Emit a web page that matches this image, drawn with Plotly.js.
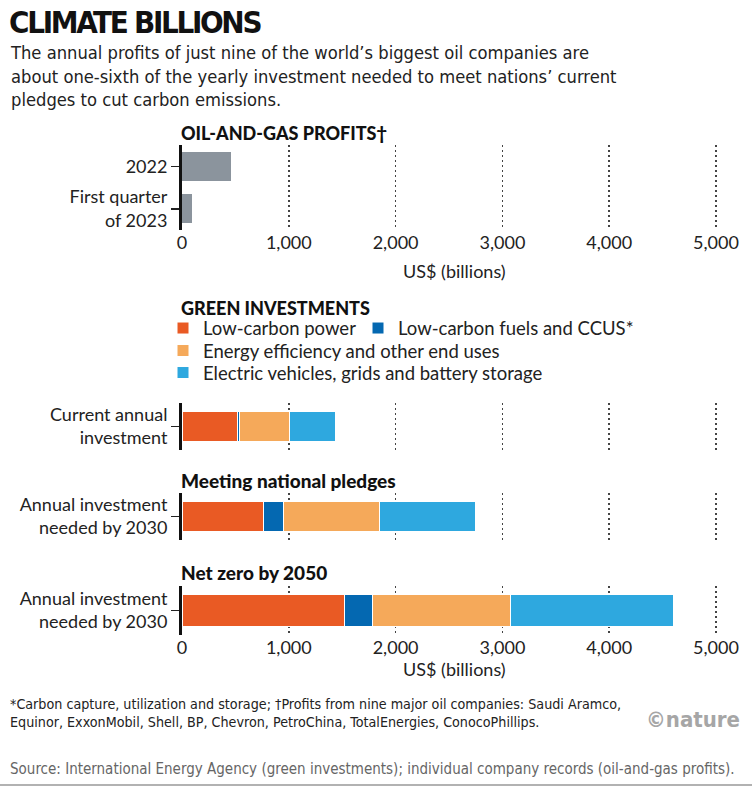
<!DOCTYPE html>
<html>
<head>
<meta charset="utf-8">
<script src="https://cdn.plot.ly/plotly-3.0.1.min.js"></script>
<style>
html,body{margin:0;padding:0;background:#fff;}
#chart{width:752px;height:787px;}
</style>
</head>
<body>
<div id="chart"></div>
<script>
// ---- Data ----
const profitCategories = ["2022", "First quarter<br>of 2023"];
const profitValues = [455, 98];

const scenarioLabels = ["Current annual<br>investment", "Annual investment<br>needed by 2030", "Annual investment<br>needed by 2030"];
const scenarioHeaders = ["", "Meeting national pledges", "Net zero by 2050"];

const seriesNames = ["Low-carbon power", "Low-carbon fuels and CCUS*", "Energy efficiency and other end uses", "Electric vehicles, grids and battery storage"];
const lowCarbonPower = [515, 760, 1520];
const lowCarbonFuels = [25, 188, 265];
const energyEfficiency = [470, 905, 1295];
const electricVehicles = [430, 895, 1525];

const xTickValues = [0, 1000, 2000, 3000, 4000, 5000];
const xTickLabels = ["0", "1,000", "2,000", "3,000", "4,000", "5,000"];

// ---- Styles ----
const seriesColors = ["#E95A24", "#0468B1", "#F5A95A", "#2EA8DF"];
const profitColor = "#8B949D";
const W = 752, H = 787;
const px = v => v / W;
const py = v => 1 - v / H;
const sans = "Lato, Roboto, sans-serif";
const tickFont = {family: sans, size: 18, color: "#222"};
const headFont = {family: sans, size: 18, color: "#111", weight: 900};
const narrow = "'DejaVu Sans Condensed', 'Liberation Sans', sans-serif";

const seriesData = [lowCarbonPower, lowCarbonFuels, energyEfficiency, electricVehicles];
const legendIds = ["legend", "legend4", "legend2", "legend3"];

const traces = [];
traces.push({
  type: "bar", orientation: "h",
  x: profitValues, y: profitCategories,
  xaxis: "x", yaxis: "y",
  marker: {color: profitColor},
  width: 0.68, showlegend: false, hoverinfo: "x+y"
});

const yAxesNames = ["y2", "y3", "y4"];
for (let i = 0; i < scenarioLabels.length; i++) {
  for (let s = 0; s < seriesNames.length; s++) {
    traces.push({
      type: "bar", orientation: "h",
      x: [seriesData[s][i]], y: [scenarioLabels[i]],
      xaxis: "x2", yaxis: yAxesNames[i],
      name: seriesNames[s],
      marker: {color: seriesColors[s], line: {color: "#fff", width: 1}},
      width: 0.64,
      showlegend: i === 0,
      legend: legendIds[s]
    });
  }
}

const xDomain = [px(182), px(182 + 5100 * 0.1068)];
const xBase = {
  range: [0, 5100], domain: xDomain,
  tickvals: xTickValues, ticktext: xTickLabels,
  showgrid: true, gridcolor: "#444", griddash: "2px,3px", gridwidth: 1.5,
  zeroline: false, showline: false, ticks: "",
  tickfont: tickFont, fixedrange: true
};
const yBase = {
  type: "category",
  showline: true, linecolor: "#111", linewidth: 3,
  ticks: "outside", ticklen: 8, tickwidth: 1.5, tickcolor: "#222",
  showgrid: false, zeroline: false, tickfont: tickFont, fixedrange: true
};

const legendBase = {
  orientation: "h", xanchor: "left", yanchor: "middle",
  bgcolor: "rgba(0,0,0,0)", borderwidth: 0, traceorder: "normal",
  font: {family: sans, size: 18.5, color: "#222"},
  itemclick: false, itemdoubleclick: false, tracegroupgap: 0
};

const layout = {
  width: W, height: H,
  margin: {l: 0, r: 0, t: 0, b: 0},
  paper_bgcolor: "#fff", plot_bgcolor: "rgba(0,0,0,0)",
  barmode: "stack",
  showlegend: true,
  xaxis: Object.assign({}, xBase, {anchor: "y",
    title: {text: "US$ (billions)", font: tickFont, standoff: 13}}),
  yaxis: Object.assign({}, yBase, {domain: [py(230), py(145)], anchor: "x", autorange: "reversed"}),
  xaxis2: Object.assign({}, xBase, {anchor: "y4",
    title: {text: "US$ (billions)", font: tickFont, standoff: 0}}),
  yaxis2: Object.assign({}, yBase, {domain: [py(450), py(403)], anchor: "x2"}),
  yaxis3: Object.assign({}, yBase, {domain: [py(540), py(493)], anchor: "x2"}),
  yaxis4: Object.assign({}, yBase, {domain: [py(635), py(586)], anchor: "x2"}),
  legend: Object.assign({}, legendBase, {x: px(163), y: py(328.5)}),
  legend4: Object.assign({}, legendBase, {x: px(358), y: py(328.5)}),
  legend2: Object.assign({}, legendBase, {x: px(163), y: py(351)}),
  legend3: Object.assign({}, legendBase, {x: px(163), y: py(373)}),
  annotations: [
    {text: '<span style="letter-spacing:-2.3px">CLIMATE BILLIONS</span>', x: px(7), y: py(22), xref: "paper", yref: "paper",
     xanchor: "left", yanchor: "middle", showarrow: false,
     font: {family: narrow, size: 31, color: "#111", weight: 700}},
    {text: "The annual profits of just nine of the world’s biggest oil companies are<br>about one-sixth of the yearly investment needed to meet nations’ current<br>pledges to cut carbon emissions.",
     x: px(8), y: py(75.5), xref: "paper", yref: "paper", xanchor: "left", yanchor: "middle",
     align: "left", showarrow: false, font: {family: narrow, size: 18.2, color: "#222"}},
    {text: "OIL-AND-GAS PROFITS†", x: px(179), y: py(133), xref: "paper", yref: "paper",
     xanchor: "left", yanchor: "middle", showarrow: false, font: headFont},
    {text: "GREEN INVESTMENTS", x: px(179), y: py(307.5), xref: "paper", yref: "paper",
     xanchor: "left", yanchor: "middle", showarrow: false, font: headFont},
    {text: scenarioHeaders[1], x: px(179), y: py(480), xref: "paper", yref: "paper",
     xanchor: "left", yanchor: "middle", showarrow: false, font: Object.assign({}, headFont, {size: 19})},
    {text: scenarioHeaders[2], x: px(179), y: py(572), xref: "paper", yref: "paper",
     xanchor: "left", yanchor: "middle", showarrow: false, font: Object.assign({}, headFont, {size: 19})},
    {text: "*Carbon capture, utilization and storage; †Profits from nine major oil companies: Saudi Aramco,<br>Equinor, ExxonMobil, Shell, BP, Chevron, PetroChina, TotalEnergies, ConocoPhillips.",
     x: px(8), y: py(712.5), xref: "paper", yref: "paper", xanchor: "left", yanchor: "middle",
     align: "left", showarrow: false, font: {family: narrow, size: 14.2, color: "#222"}},
    {text: "©nature", x: px(742), y: py(719), xref: "paper", yref: "paper", xanchor: "right", yanchor: "middle",
     showarrow: false, font: {family: narrow, size: 22, color: "#a6a6a6", weight: 700}},
    {text: "Source: International Energy Agency (green investments); individual company records (oil-and-gas profits).",
     x: px(8), y: py(769), xref: "paper", yref: "paper", xanchor: "left", yanchor: "middle",
     showarrow: false, font: {family: narrow, size: 15, color: "#666"}}
  ],
  shapes: [
    {type: "line", xref: "paper", yref: "paper", x0: 0, x1: 1, y0: py(785), y1: py(785),
     line: {color: "#999", width: 1.5}}
  ]
};

Plotly.newPlot("chart", traces, layout, {staticPlot: true, displayModeBar: false});
</script>
</body>
</html>
